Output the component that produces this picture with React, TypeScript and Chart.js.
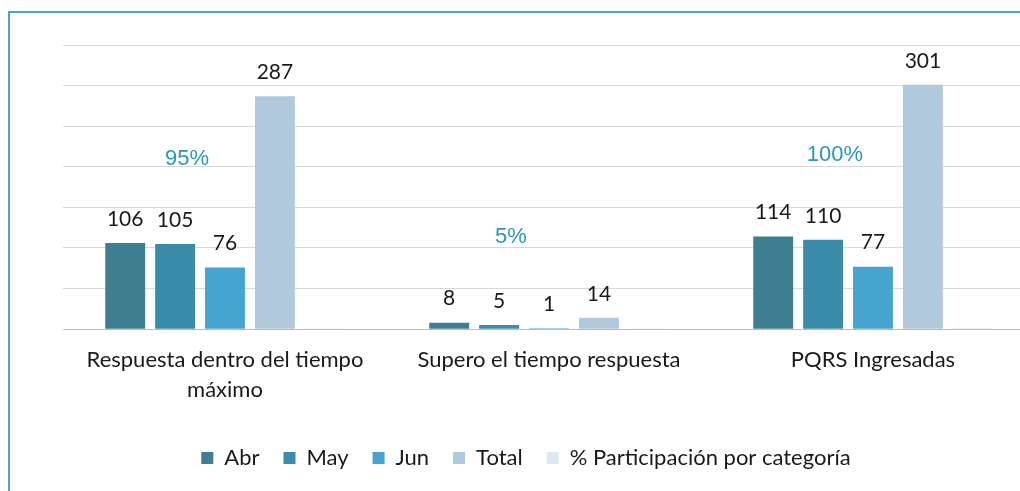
import React, { useEffect, useRef } from "react";
import { Chart, registerables } from "chart.js";

Chart.register(...registerables);

const categories: (string | string[])[] = [
  ["Respuesta dentro del tiempo", "máximo"],
  "Supero el tiempo respuesta",
  "PQRS Ingresadas",
];
const abr = [106, 8, 114];
const may = [105, 5, 110];
const jun = [76, 1, 77];
const total = [287, 14, 301];
const pct = [95, 5, 100];
const seriesNames = ["Abr", "May", "Jun", "Total", "% Participación por categoría"];
const yTicksMax = 350;
const yStep = 50;

const colors = ["#3D7E90", "#3A8CAA", "#47A4CE", "#B0C9DC", "#DDE8F1"];

const labelPlugin = {
  id: "valueLabels",
  afterLayout(chart: any) {
    const lg = chart.legend;
    if (lg) {
      lg.left -= 23;
      lg.right -= 23;
    }
  },
  afterDatasetsDraw(chart: any) {
    const { ctx } = chart;
    ctx.save();
    ctx.textAlign = "center";
    ctx.textBaseline = "middle";
    ctx.font = "21px Lato";
    ctx.fillStyle = "#1a1a1a";
    for (let d = 0; d < 4; d++) {
      const meta = chart.getDatasetMeta(d);
      const values = chart.data.datasets[d].data;
      meta.data.forEach((el: any, i: number) => {
        ctx.fillText(String(values[i]), el.x, el.y - 24);
      });
    }
    const xs = chart.scales.x;
    const y1 = chart.scales.y1;
    ctx.font = "22px 'Liberation Sans'";
    ctx.fillStyle = "#2A95BF";
    pct.forEach((p, i) => {
      ctx.fillText(p + "%", xs.getPixelForValue(i) - 38, y1.getPixelForValue(p));
    });
    ctx.restore();
  },
};

export default function App() {
  const ref = useRef<HTMLCanvasElement>(null);
  useEffect(() => {
    document.body.style.margin = "0";
    const chart = new Chart(ref.current!, {
      type: "bar",
      data: {
        labels: categories as any,
        datasets: [
          { label: seriesNames[0], data: abr, backgroundColor: colors[0] },
          { label: seriesNames[1], data: may, backgroundColor: colors[1] },
          { label: seriesNames[2], data: jun, backgroundColor: colors[2] },
          { label: seriesNames[3], data: total, backgroundColor: colors[3] },
          { label: seriesNames[4], data: pct.map((p) => p / 100), backgroundColor: colors[4] },
        ],
      },
      options: {
        responsive: false,
        animation: false,
        devicePixelRatio: 1,
        layout: { padding: { left: 63, right: 25, top: 45, bottom: 12 } },
        datasets: { bar: { categoryPercentage: 0.77, barPercentage: 0.8 } },
        scales: {
          x: {
            grid: { display: false, drawTicks: false },
            border: { display: false },
            ticks: {
              padding: 16,
              color: "#1a1a1a",
              font: { family: "Lato", size: 22, lineHeight: 1.36 },
            },
            afterFit: (s: any) => {
              s.height += 2;
            },
          },
          y: {
            min: 0,
            max: yTicksMax,
            ticks: { display: false, stepSize: yStep },
            grid: {
              color: (c: any) => (c.tick && c.tick.value === 0 ? "#BDBDBD" : "#D9D9D9"),
              drawTicks: false,
            },
            border: { display: false },
          },
          y1: { display: false, min: -102, max: 227 },
        },
        plugins: {
          tooltip: { enabled: false },
          legend: {
            position: "bottom",
            labels: {
              color: "#1a1a1a",
              font: { family: "Lato", size: 22 },
              boxWidth: 12,
              boxHeight: 12,
              padding: 24,
            },
          },
        },
      },
      plugins: [labelPlugin],
    });
    return () => chart.destroy();
  }, []);
  return (
    <div style={{ position: "relative", width: 1020, height: 491, overflow: "hidden", background: "#fff" }}>
      <canvas ref={ref} width={1060} height={491} style={{ position: "absolute", left: 0, top: 0 }} />
      <div
        style={{
          position: "absolute",
          left: 8,
          top: 11,
          width: 1100,
          height: 600,
          borderLeft: "2px solid #4AA2CF",
          borderTop: "2px solid #4AA2CF",
          pointerEvents: "none",
        }}
      />
    </div>
  );
}
